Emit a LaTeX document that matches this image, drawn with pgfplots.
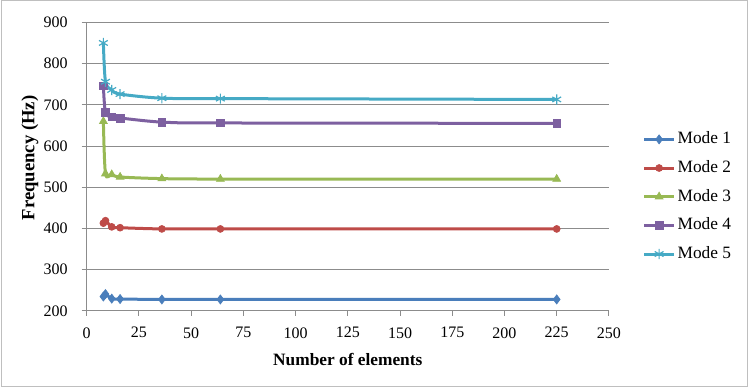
\documentclass[border=0pt]{standalone}
\usepackage{pgfplots}
\pgfplotsset{compat=1.18}
\usepackage{fontspec}
\setmainfont{Liberation Serif}

\definecolor{cModeA}{HTML}{4A7EBB}
\definecolor{cModeB}{HTML}{BE4B48}
\definecolor{cModeC}{HTML}{98B954}
\definecolor{cModeD}{HTML}{7D60A0}
\definecolor{cModeE}{HTML}{46AAC5}
\definecolor{gridgray}{HTML}{8C8C8C}
\definecolor{framegray}{HTML}{BFBFBF}

\begin{document}
\begin{tikzpicture}
\useasboundingbox (0,0) rectangle (563.25pt,291pt);
\draw[framegray, line width=0.75pt] (0.75pt,1.1pt) rectangle (560.25pt,290.25pt);
\begin{axis}[
  at={(65pt,57.75pt)}, anchor=south west,
  scale only axis, width=391.7pt, height=216.5pt,
  xmin=0, xmax=250, ymin=200, ymax=900,
  xtick={0,25,...,250}, ytick={200,300,...,900},
  axis x line*=bottom, axis y line*=left,
  axis line style={draw=gridgray, line width=0.75pt, -},
  tick align=outside, major tick length=3.75pt,
  tick style={draw=gridgray, line width=0.75pt},
  ymajorgrids, grid style={draw=gridgray, line width=0.75pt},
  /pgf/number format/assume math mode=true,
  ticklabel style={font=\fontsize{12}{14}\selectfont},
  yticklabel style={xshift=-7pt},
  xticklabel style={yshift=-5pt},
  xlabel={Number of elements},
  ylabel={Frequency (Hz)},
  xlabel style={at={(axis description cs:0.5,-0.1697)}, anchor=center,
    font=\fontsize{13}{15}\selectfont\bfseries},
  ylabel style={at={(axis description cs:-0.1086,0.53)}, anchor=center,
    font=\fontsize{14}{16}\selectfont\bfseries},
  every axis plot/.append style={smooth, tension=0.5, line width=2.25pt},
  legend style={at={(axis description cs:1.064,0.396)}, anchor=west,
    draw=none, fill=none, inner sep=0pt, row sep=7pt,
    font=\fontsize{13}{15}\selectfont,
    nodes={inner sep=1.5pt, text height=9pt, text depth=2.5pt}},
  legend cell align=left,
  legend image code/.code={
    \draw[mark repeat=2, mark phase=2, line width=2.25pt]
      plot coordinates {(0pt,0pt) (11.25pt,0pt) (22.5pt,0pt)};},
]
\addplot[cModeA, mark=diamond*, mark size=3.4pt,
  mark options={solid, fill=cModeA, line width=0.5pt}]
  coordinates {(8,235) (9,241) (12,230) (16,229) (36,228) (64,228) (225,228)};
\addlegendentry{Mode 1}
\addplot[cModeB, mark=*, mark size=2.6pt,
  mark options={solid, fill=cModeB, line width=0.5pt}]
  coordinates {(8,413) (9,419) (12,404) (16,402) (36,399) (64,399) (225,399)};
\addlegendentry{Mode 2}
\addplot[cModeC, mark=triangle*, mark size=3.4pt,
  mark options={solid, fill=cModeC, line width=0.5pt}]
  coordinates {(8,660) (9,533) (12,531) (16,525) (36,521) (64,520) (225,520)};
\addlegendentry{Mode 3}
\addplot[cModeD, mark=square*, mark size=2.9pt,
  mark options={solid, fill=cModeD, line width=0.5pt}]
  coordinates {(8,746) (9,681) (12,671) (16,668) (36,658) (64,656) (225,655)};
\addlegendentry{Mode 4}
\addplot[cModeE, mark=asterisk, mark size=3.8pt,
  mark options={solid, line width=0.9pt}]
  coordinates {(8,850) (9,756) (12,736) (16,726) (36,716) (64,715) (225,713)};
\addlegendentry{Mode 5}
\end{axis}
\end{tikzpicture}
\end{document}
